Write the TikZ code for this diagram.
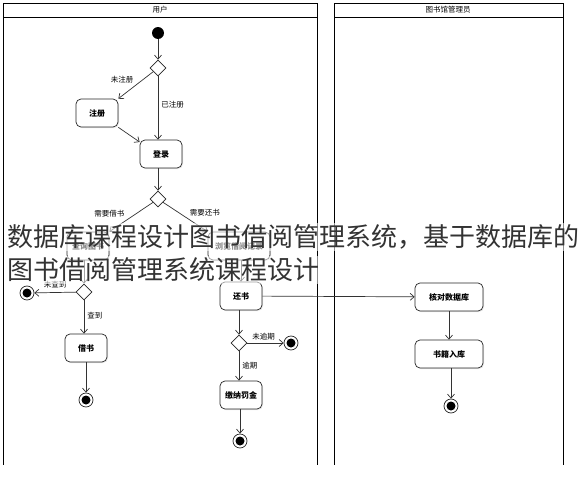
\documentclass[tikz,border=0pt]{standalone}
\usepackage{fontspec}
\setmainfont{Noto Sans CJK SC}
\usetikzlibrary{arrows.meta,shapes.geometric,shadows}
\tikzset{%
    act/.style={rectangle, draw=black!85, line width=0.7pt, rounded corners=5pt, fill=white, minimum width=42pt, minimum height=28pt, inner sep=2pt, font=\fontsize{8}{9}\selectfont\bfseries, drop shadow={opacity=0.2, shadow xshift=1pt, shadow yshift=-1pt}},
    dec/.style={diamond, draw=black!85, line width=0.7pt, fill=white, minimum size=16pt, inner sep=0pt},
    ini/.style={circle, fill=black, minimum size=12pt, inner sep=0pt},
    fin/.style={circle, draw=black!85, line width=0.7pt, fill=white, minimum size=14pt, inner sep=0pt, path picture={\fill[black] (path picture bounding box.center) circle (4.5pt);}},
    lbl/.style={font=\fontsize{7.5}{9}\selectfont, inner sep=1pt},
    lane/.style={line width=1pt},
    flw/.style={line width=0.7pt, draw=black!80, -{Straight Barb[length=4pt, width=7pt]}}
}

\begin{document}
\begin{tikzpicture}[x=1pt,y=-1pt]
    \useasboundingbox (0,0) rectangle (587,490);
    % swimlanes
    \draw [lane] (3,3) rectangle (317,17);
    \draw [lane] (3,17) -- (3,465) (317,17) -- (317,465);
    \node [lbl] (userhead) at (160,10) {用户};
    \draw [lane] (334,3) rectangle (563,17);
    \draw [lane] (334,17) -- (334,465) (563,17) -- (563,465);
    \node [lbl] (adminhead) at (448,10) {图书馆管理员};
    % user lane
    \node [ini] (start) at (158,33) {};
    \node [dec] (chk) at (158,68) {};
    \node [act] (reg) at (97,113) {注册};
    \node [act] (login) at (161,154) {登录};
    \node [dec] (need) at (158,199) {};
    \node [act] (query) at (88,246) {查询图书};
    \node [act, minimum width=62pt] (browse) at (239,246) {浏览借阅记录};
    \node [dec] (found) at (84,292) {};
    \node [fin] (endnf) at (27,293) {};
    \node [act] (borrow) at (86,348) {借书};
    \node [fin] (endb) at (86,400) {};
    \node [act] (ret) at (241,296) {还书};
    \node [dec] (late) at (239,343) {};
    \node [fin] (endok) at (291,343) {};
    \node [act] (fine) at (241,395) {缴纳罚金};
    \node [fin] (endf) at (240,441) {};
    % admin lane
    \node [act, minimum width=68pt] (check) at (449,297) {核对数据库};
    \node [act, minimum width=68pt] (store) at (449,354) {书籍入库};
    \node [fin] (enda) at (451,406) {};
    % flows
    \draw [flw] (start) -- (chk);
    \draw [flw] (chk) -- (reg.north east) node[lbl, pos=0.5, above left=1pt]{未注册};
    \draw [flw] (chk) -- (login.north -| chk) node[lbl, pos=0.45, right=2pt]{已注册};
    \draw [flw] (reg.south east) -- (login.west |- 0,142);
    \draw [flw] (login.south -| need) -- (need);
    \draw [flw] (need) -- (query.north east) node[lbl, pos=0.6, above left=1pt]{需要借书};
    \draw [flw] (need) -- (browse.north west) node[lbl, pos=0.55, above right=1pt]{需要还书};
    \draw [flw] (query.south -| found) -- (found);
    \draw [flw] (found) -- (endnf) node[lbl, pos=0.5, above=3pt]{未查到};
    \draw [flw] (found) -- (borrow.north -| found) node[lbl, pos=0.45, right=2pt]{查到};
    \draw [flw] (borrow) -- (endb);
    \draw [flw] (browse.south -| ret) -- (ret);
    \draw [flw] (ret) -- (check);
    \draw [flw] (ret.south -| late) -- (late);
    \draw [flw] (late) -- (endok) node[lbl, pos=0.45, above=2pt]{未逾期};
    \draw [flw] (late) -- (fine.north -| late) node[lbl, pos=0.5, right=2pt]{逾期};
    \draw [flw] (fine.south -| endf) -- (endf);
    \draw [flw] (check.south -| store) -- (store);
    \draw [flw] (store.south -| enda) -- (enda);
    % caption over the picture
    \node [anchor=west, text=black!80, font=\fontsize{26}{30}\selectfont, fill=white, fill opacity=0.55, text opacity=1, inner sep=2pt] (cap1) at (5,237) {数据库课程设计图书借阅管理系统，基于数据库的};
    \node [anchor=west, text=black!80, font=\fontsize{26}{30}\selectfont, fill=white, fill opacity=0.55, text opacity=1, inner sep=2pt] (cap2) at (5,270) {图书借阅管理系统课程设计};
\end{tikzpicture}
\end{document}
